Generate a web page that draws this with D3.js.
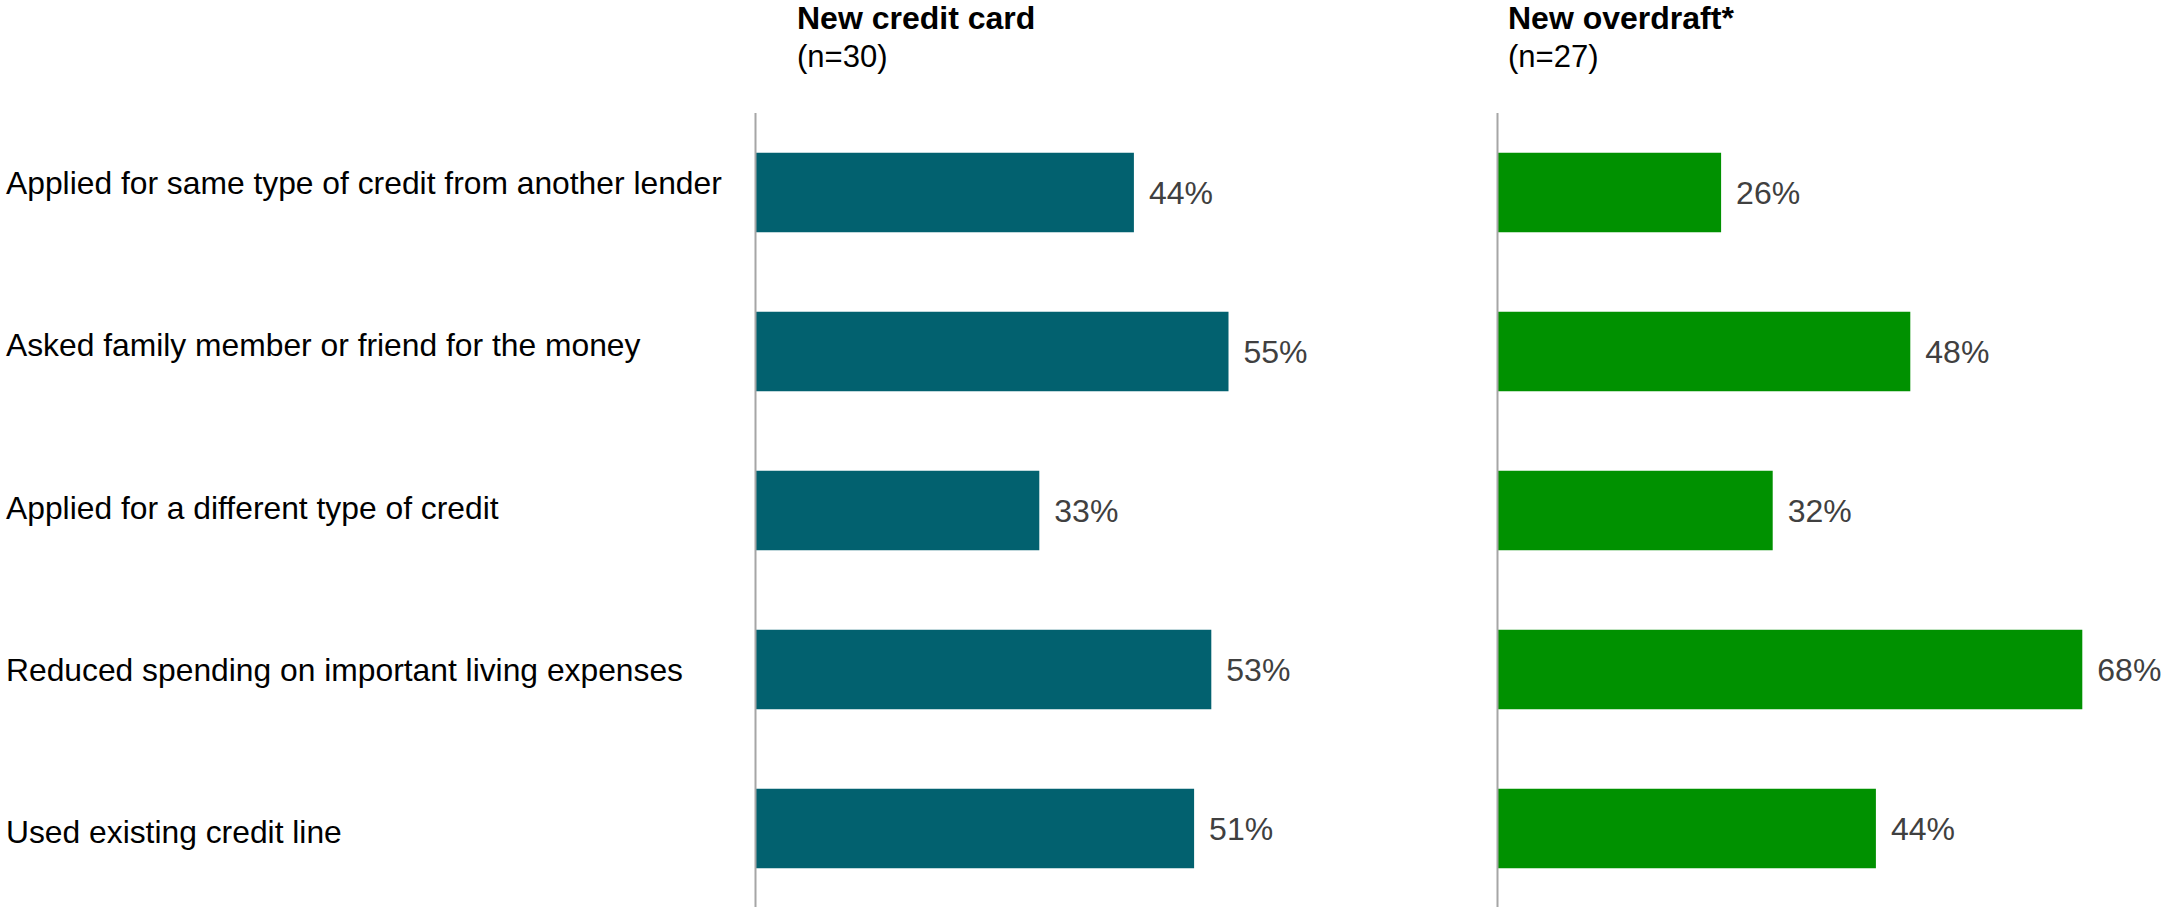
<!DOCTYPE html>
<html>
<head>
<meta charset="utf-8">
<script src="https://cdn.jsdelivr.net/npm/d3@7/dist/d3.min.js"></script>
<style>
  html, body { margin: 0; padding: 0; background: #ffffff; }
  svg { display: block; font-family: "Liberation Sans", Arial, Helvetica, sans-serif; }
</style>
</head>
<body>
<svg id="chart" width="2164" height="907"></svg>
<script>
// Actions taken after being declined, by product
const categories = [
  "Applied for same type of credit from another lender",
  "Asked family member or friend for the money",
  "Applied for a different type of credit",
  "Reduced spending on important living expenses",
  "Used existing credit line"
];
const creditCardValues = [44, 55, 33, 53, 51];
const overdraftValues  = [26, 48, 32, 68, 44];

const panelTitles  = ["New credit card", "New overdraft*"];
const panelSamples = ["(n=30)", "(n=27)"];

const W = 2164, H = 907;
const svg = d3.select("#chart");

// shared vertical layout
const y = d3.scaleBand()
  .domain(categories)
  .range([113, 908])
  .paddingInner(0.5)
  .paddingOuter(0.25);

// row label positions (baselines)
const yLabel = d3.scalePoint()
  .domain(categories)
  .range([194, 843]);

// shared horizontal value scale (percent -> pixels)
const x = d3.scaleLinear().domain([0, 100]).range([0, 860]);

// category labels
svg.append("g")
  .selectAll("text")
  .data(categories)
  .join("text")
  .attr("x", 6)
  .attr("y", d => yLabel(d))
  .attr("font-size", 31.8)
  .attr("fill", "#000000")
  .text(d => d);

const panels = [
  { title: panelTitles[0], sample: panelSamples[0], values: creditCardValues, color: "#02616f", x0: 755.5, tx: 797 },
  { title: panelTitles[1], sample: panelSamples[1], values: overdraftValues,  color: "#009100", x0: 1497.5, tx: 1508 }
];

panels.forEach(p => {
  const g = svg.append("g");

  // panel heading
  g.append("text")
    .attr("x", p.tx).attr("y", 29)
    .attr("font-size", 32)
    .attr("font-weight", "bold")
    .attr("fill", "#000000")
    .text(p.title);
  g.append("text")
    .attr("x", p.tx).attr("y", 67)
    .attr("font-size", 31)
    .attr("fill", "#000000")
    .text(p.sample);

  const rows = categories.map((c, i) => ({ cat: c, value: p.values[i] }));

  // bars
  g.selectAll("rect")
    .data(rows)
    .join("rect")
    .attr("x", p.x0)
    .attr("y", d => y(d.cat))
    .attr("width", d => x(d.value))
    .attr("height", y.bandwidth())
    .attr("fill", p.color);

  // value labels
  g.selectAll("text.val")
    .data(rows)
    .join("text")
    .attr("class", "val")
    .attr("x", d => p.x0 + x(d.value) + 15)
    .attr("y", d => y(d.cat) + y.bandwidth() / 2 + 11.5)
    .attr("font-size", 32)
    .attr("fill", "#404040")
    .text(d => d.value + "%");

  // baseline axis
  g.append("line")
    .attr("x1", p.x0).attr("x2", p.x0)
    .attr("y1", 113).attr("y2", H)
    .attr("stroke", "#a6a6a6")
    .attr("stroke-width", 2);
});
</script>
</body>
</html>
